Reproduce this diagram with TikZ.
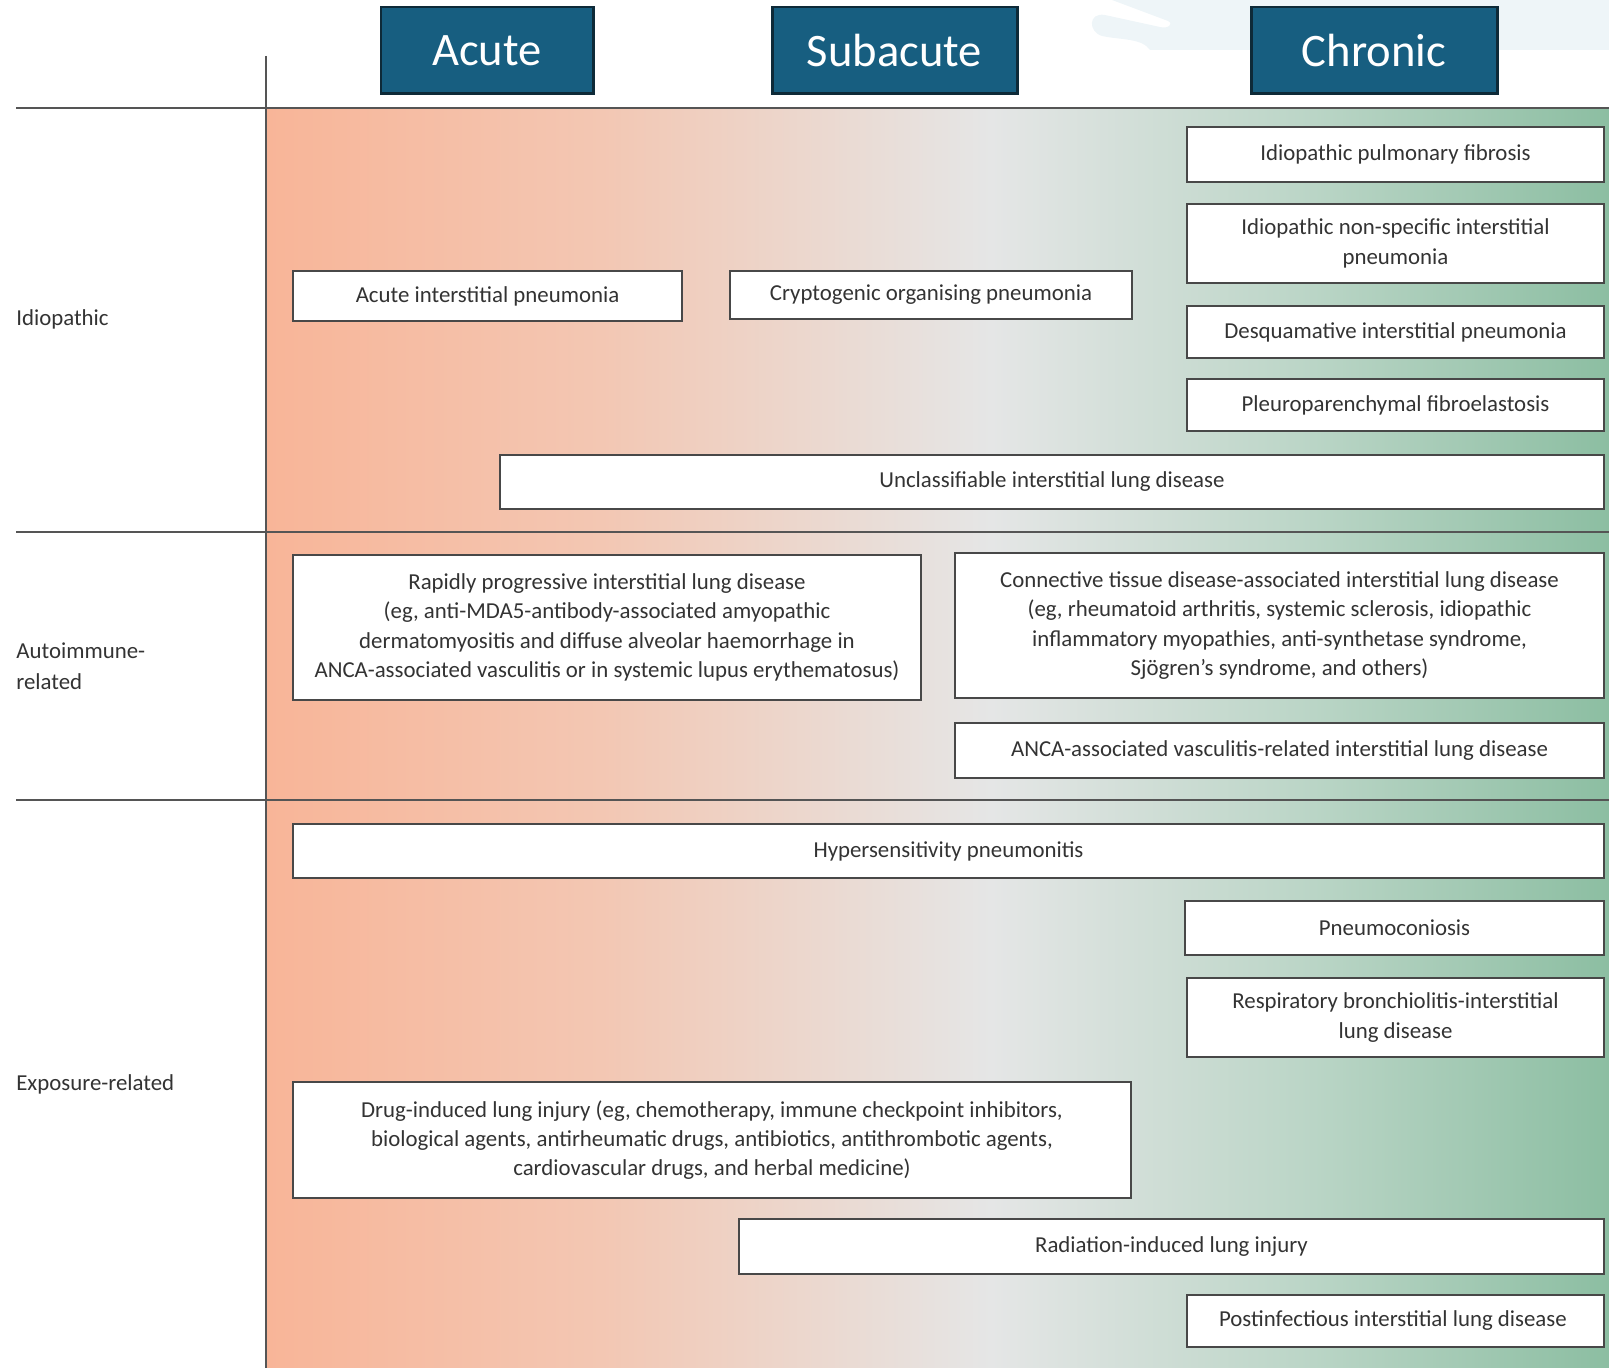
\documentclass[tikz,border=0pt]{standalone}
\usepackage{fontspec}
\setmainfont{Carlito}
\definecolor{salm}{HTML}{F8B598}
\definecolor{salmlt}{HTML}{F3C7B3}
\definecolor{midgray}{HTML}{E5E6E6}
\definecolor{grnlt}{HTML}{BAD5C6}
\definecolor{grn}{HTML}{8CBEA2}
\definecolor{phasefill}{HTML}{175E80}
\definecolor{phaseline}{HTML}{0E2A38}
\definecolor{boxline}{HTML}{484848}
\definecolor{rulegray}{HTML}{555555}
\definecolor{txt}{HTML}{333333}
\definecolor{wmark}{HTML}{EEF5F8}
\pgfdeclarehorizontalshading{ildgrad}{100bp}{color(0bp)=(salm); color(25bp)=(salm);
  color(37.5bp)=(salmlt); color(52bp)=(midgray); color(64bp)=(grnlt);
  color(75bp)=(grn); color(100bp)=(grn)}
\begin{document}
\begin{tikzpicture}[x=0.02cm,y=-0.02cm,
  ildbox/.style={draw=boxline, line width=1.2pt, fill=white, text=txt, align=center,
    inner sep=0pt, outer sep=0pt, font=\fontsize{13}{16.7}\selectfont},
  phase/.style={draw=phaseline, line width=1.7pt, fill=phasefill, text=white,
    inner sep=0pt, outer sep=0pt, font=\fontsize{26.5}{30}\selectfont},
  rowlab/.style={anchor=west, align=left, text=txt, inner sep=0pt,
    font=\fontsize{13}{17.5}\selectfont},
  rule/.style={draw=rulegray, line width=1.3pt}]
  \useasboundingbox (0,0) rectangle (1609,1368);
  \fill[wmark] (1112,0) -- (1168,21) .. controls (1174,24) and (1168,29) .. (1160,27)
    -- (1105,15) .. controls (1088,12) and (1088,32) .. (1102,36)
    .. controls (1120,40) and (1142,38) .. (1150,50) -- (1609,50) -- (1609,0) -- cycle;
  \shade[shading=ildgrad] (266,108) rectangle (1609,1368);
  \foreach \y in {108,532,800}
    {\draw[rule] (16,\y) -- (1609,\y);}
  \draw[rule, line width=1.1pt] (266,56) -- (266,1368);
  \foreach \nm/\l/\r/\txt in {acute/381/593/Acute, subacute/772/1017/Subacute,
    chronic/1251/1497/Chronic}{
    \pgfmathsetmacro\w{(\r-\l)*0.02}
    \node[phase, minimum width=\w cm, minimum height=1.74cm] (\nm) at ({(\l+\r)/2},50.5) {\txt};
  }
  \node[rowlab] (idio) at (16,319) {Idiopathic};
  \node[rowlab] (autoimm) at (16,666) {Autoimmune-\\related};
  \node[rowlab] (expos) at (16,1084) {Exposure-related};
  \foreach \nm/\l/\t/\r/\b/\txt in {
    aip/293/271/682/321/{Acute interstitial pneumonia},
    cop/730/271/1132/319/{Cryptogenic organising pneumonia},
    ipf/1187/127/1604/182/{Idiopathic pulmonary fibrosis},
    nsip/1187/204/1604/283/{Idiopathic non-specific interstitial\\pneumonia},
    dip/1187/306/1604/358/{Desquamative interstitial pneumonia},
    ppfe/1187/379/1604/431/{Pleuroparenchymal fibroelastosis},
    uild/500/455/1604/509/{Unclassifiable interstitial lung disease},
    rpild/293/555/921/700/{Rapidly progressive interstitial lung disease\\(eg, anti-MDA5-antibody-associated amyopathic\\dermatomyositis and diffuse alveolar haemorrhage in\\ANCA-associated vasculitis or in systemic lupus erythematosus)},
    ctdild/955/553/1604/698/{Connective tissue disease-associated interstitial lung disease\\(eg, rheumatoid arthritis, systemic sclerosis, idiopathic\\inflammatory myopathies, anti-synthetase syndrome,\\Sjögren’s syndrome, and others)},
    aavild/955/723/1604/778/{ANCA-associated vasculitis-related interstitial lung disease},
    hp/293/824/1604/878/{Hypersensitivity pneumonitis},
    pnc/1185/901/1604/955/{Pneumoconiosis},
    rbild/1187/978/1604/1057/{Respiratory bronchiolitis-interstitial\\lung disease},
    dili/293/1082/1131/1198/{Drug-induced lung injury (eg, chemotherapy, immune checkpoint inhibitors,\\biological agents, antirheumatic drugs, antibiotics, antithrombotic agents,\\cardiovascular drugs, and herbal medicine)},
    rili/739/1219/1604/1274/{Radiation-induced lung injury},
    piild/1187/1295/1604/1347/{Postinfectious interstitial lung disease}
  }{
    \pgfmathsetmacro\w{(\r-\l)*0.02}
    \pgfmathsetmacro\h{(\b-\t)*0.02}
    \node[ildbox, minimum width=\w cm, minimum height=\h cm] (\nm) at ({(\l+\r)/2},{(\t+\b)/2}) {\txt};
  }
\end{tikzpicture}
\end{document}
